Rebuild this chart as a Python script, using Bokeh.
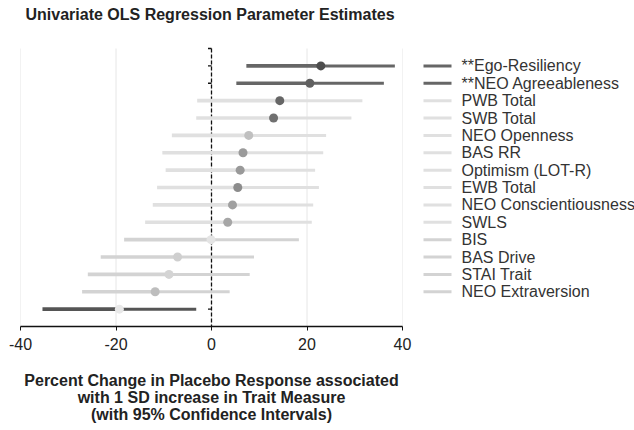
from bokeh.plotting import figure
from bokeh.layouts import row
from bokeh.models import ColumnDataSource, FixedTicker, Range1d
from bokeh.core.properties import value
from bokeh.embed import file_html
from bokeh.resources import INLINE

title = "Univariate OLS Regression Parameter Estimates"
labels = ["**Ego-Resiliency", "**NEO Agreeableness", "PWB Total", "SWB Total",
          "NEO Openness", "BAS RR", "Optimism (LOT-R)", "EWB Total",
          "NEO Conscientiousness", "SWLS", "BIS", "BAS Drive", "STAI Trait",
          "NEO Extraversion"]
estimate = [22.9, 20.6, 14.3, 13.0, 7.8, 6.6, 6.0, 5.5, 4.4, 3.4, -0.1, -7.1, -8.9, -11.8, -19.3]
lower = [7.3, 5.2, -3.0, -3.2, -8.3, -10.3, -9.6, -11.4, -12.3, -13.9, -18.3, -23.2, -25.9, -27.1, -35.4]
upper = [38.4, 36.1, 31.6, 29.3, 24.0, 23.4, 21.7, 22.5, 21.3, 21.0, 18.3, 8.9, 8.0, 3.8, -3.2]
line_colors = ["#666666", "#666666", "#e0e0e0", "#e0e0e0", "#e0e0e0", "#e0e0e0", "#e0e0e0",
               "#e0e0e0", "#e0e0e0", "#e0e0e0", "#d3d3d3", "#d3d3d3", "#d3d3d3", "#d3d3d3",
               "#555555"]
dot_colors = ["#4d4d4d", "#606060", "#666666", "#707070", "#c0c0c0", "#9a9a9a", "#999999",
              "#8c8c8c", "#a0a0a0", "#a6a6a6", "#e4e4e4", "#cfcfcf", "#d4d4d4", "#bdbdbd",
              "#e8e8e8"]
tick_values = [-40, -20, 0, 20, 40]
tick_labels = ["-40", "-20", "0", "20", "40"]
zero_tick_rows = [0, 1, 2, 15]

FONT = "Liberation Sans"
LEFT, TOP, BOTTOM, GAP = 20, 48, 102, 14   # pixel layout of the data area
FRAME_W, DATA_H = 382, 278
LEGEND_W = 634 - LEFT - FRAME_W - GAP
PX_PER_UNIT = FRAME_W / 80.0

n = len(estimate)
rows = list(range(1, n + 1))
row_lo, row_hi = 0, n + 1
PX_PER_ROW = DATA_H / (row_hi - row_lo)
top_units = TOP / PX_PER_ROW

src = ColumnDataSource(dict(row=rows, est=estimate, lo=lower, hi=upper,
                            lc=line_colors, dc=dot_colors))

yr = Range1d(row_hi, row_lo - top_units)
p = figure(frame_width=FRAME_W, frame_height=DATA_H + TOP,
           min_border_left=LEFT, min_border_right=GAP, min_border_top=0, min_border_bottom=BOTTOM,
           x_range=Range1d(tick_values[0], tick_values[-1]), y_range=yr,
           y_axis_type=None, output_backend="svg", toolbar_location=None)
p.outline_line_color = None
p.xgrid.visible = False
p.ygrid.visible = False

# title (drawn as text in the top band of the frame)
p.text(x=[tick_values[0] + 5 / PX_PER_UNIT], y=[row_lo - (TOP - 14) / PX_PER_ROW], text=[title],
       text_font=value(FONT), text_font_size="16px", text_font_style="bold",
       text_color="#222222", text_baseline="middle", text_align="left")

# vertical grid lines over the data area
p.segment(x0=tick_values, y0=[row_lo] * len(tick_values), x1=tick_values,
          y1=[row_hi] * len(tick_values), line_color="#e6e6e6", line_width=1)

# x axis
ax = p.xaxis[0]
ax.ticker = FixedTicker(ticks=tick_values)
ax.major_label_overrides = {v: s for v, s in zip(tick_values, tick_labels)}
ax.axis_line_width = 1.5
ax.axis_line_color = "#111111"
ax.major_tick_in = 0
ax.major_tick_out = 4
ax.major_tick_line_color = "#111111"
ax.minor_tick_line_color = None
ax.major_label_text_font = FONT
ax.major_label_text_font_size = "16px"
ax.major_label_text_color = "#222222"
ax.major_label_standoff = 7
ax.axis_label = ("Percent Change in Placebo Response associated\n"
                 "with 1 SD increase in Trait Measure\n"
                 "(with 95% Confidence Intervals)")
ax.axis_label_text_font = FONT
ax.axis_label_text_font_size = "16px"
ax.axis_label_text_font_style = "bold"
ax.axis_label_text_color = "#222222"
ax.axis_label_text_line_height = 1.0
ax.axis_label_standoff = 19

# zero reference line with small ticks
p.segment(x0=[0], y0=[row_lo], x1=[0], y1=[row_hi], line_color="#111111",
          line_width=1.3, line_dash="4 2")
tick_len = 3.5 / PX_PER_UNIT
p.segment(x0=[0] * len(zero_tick_rows), y0=zero_tick_rows,
          x1=[-tick_len] * len(zero_tick_rows), y1=zero_tick_rows,
          line_color="#111111", line_width=1.3)

# confidence intervals and estimates
p.segment("lo", "row", "est", "row", source=src, line_color="lc", line_width=3.6)
p.segment("est", "row", "hi", "row", source=src, line_color="lc", line_width=3)
p.scatter("est", "row", source=src, size=9, fill_color="dc", line_color=None)

# legend panel (x in pixels measured from the right edge of the data area)
q = figure(frame_width=LEGEND_W, frame_height=DATA_H + TOP,
           min_border_left=0, min_border_right=0, min_border_top=0, min_border_bottom=BOTTOM,
           x_range=Range1d(GAP, GAP + LEGEND_W), y_range=yr, x_axis_type=None, y_axis_type=None,
           output_backend="svg", toolbar_location=None)
q.outline_line_color = None
q.xgrid.visible = False
q.ygrid.visible = False

m = len(labels)
leg = ColumnDataSource(dict(row=rows[:m], label=labels, color=line_colors[:m],
                            x0=[21] * m, x1=[49] * m, xt=[59] * m))
q.segment("x0", "row", "x1", "row", source=leg, line_color="color", line_width=3)
q.text("xt", "row", text="label", source=leg, text_font=value(FONT),
       text_font_size="16px", text_baseline="middle", text_align="left",
       text_color="#333333")

layout = row(p, q)
open("out.html", "w").write(file_html(layout, INLINE))
